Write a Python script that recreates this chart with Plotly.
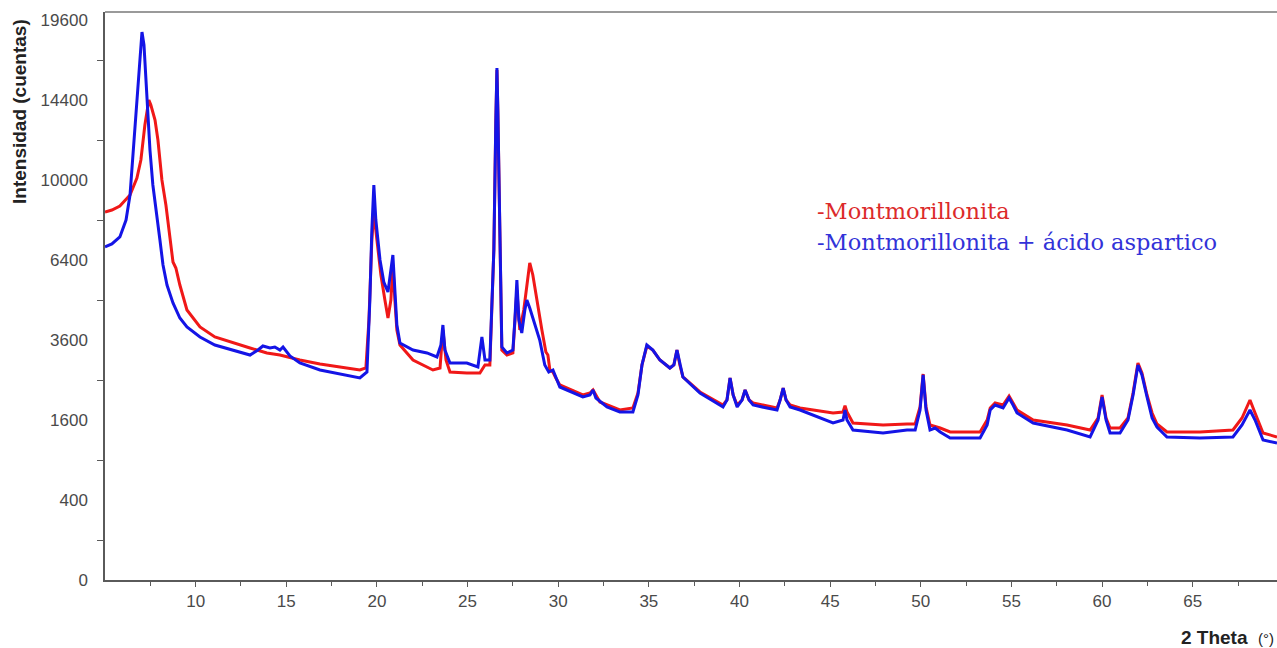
import numpy as np
import plotly.graph_objects as go

# ---- data (2 theta in degrees, intensity in counts) ----
red_2theta = [5.00, 5.38, 5.82, 6.38, 6.76, 6.98, 7.20, 7.37, 7.42, 7.53, 7.76, 7.92, 8.14, 8.36, 8.58, 8.75,
              8.91, 9.13, 9.52, 10.24, 11.06, 12.06, 13.00, 13.93, 14.65, 15.75, 16.86, 17.96, 19.06, 19.39,
              19.56, 19.72, 19.83, 20.00, 20.22, 20.44, 20.61, 20.77, 20.88, 20.99, 21.10, 21.27, 21.99, 23.09,
              23.48, 23.64, 23.81, 24.03, 24.96, 25.68, 25.96, 26.23, 26.45, 26.56, 26.62, 26.67, 26.78, 26.89,
              27.17, 27.50, 27.72, 27.88, 28.10, 28.27, 28.43, 28.60, 28.82, 29.10, 29.32, 29.43, 29.54, 29.71,
              29.87, 30.09, 31.36, 31.75, 31.92, 32.30, 33.40, 34.12, 34.40, 34.62, 34.89, 35.22, 35.61, 36.16,
              36.38, 36.55, 36.71, 36.88, 37.82, 39.09, 39.31, 39.48, 39.65, 39.87, 40.14, 40.31, 40.53, 40.75,
              42.07, 42.24, 42.41, 42.57, 42.79, 43.34, 45.16, 45.71, 45.82, 45.93, 46.26, 47.92, 49.24, 49.69,
              49.96, 50.13, 50.29, 50.51, 51.07, 51.62, 53.27, 53.66, 53.83, 54.10, 54.54, 54.87, 55.09, 55.31,
              56.20, 58.07, 59.34, 59.78, 60.00, 60.22, 60.44, 60.99, 61.43, 61.71, 61.98, 62.20, 62.48, 62.76,
              63.03, 63.58, 65.40, 67.22, 67.72, 68.16, 68.44, 68.88, 69.65]
red_counts = [8464, 8556, 8742, 9264, 10100, 11025, 12939, 14102, 14400, 14102, 13225, 12100, 10000, 8789, 7225, 6320,
              6084, 5439, 4556, 4001, 3691, 3511, 3364, 3221, 3164, 3025, 2916, 2836, 2756, 2809,
              4225, 7225, 8464, 7225, 5814, 4900, 4290, 4900, 6202, 4900, 3906, 3452, 3025, 2756,
              2809, 3906, 3025, 2704, 2678, 2678, 2889, 2889, 6806, 13225, 16256, 13806, 6806, 3306,
              3164, 3221, 5256, 3906, 4556, 5439, 6281, 5814, 4900, 3906, 3249, 3164, 2756, 2704,
              2550, 2377, 2139, 2186, 2256, 1980, 1806, 1849, 2186, 2889, 3422, 3306, 3025, 2809,
              2889, 3306, 2889, 2576, 2209, 1914, 2025, 2550, 2139, 1914, 2025, 2256, 2025, 1958,
              1849, 2025, 2304, 2025, 1914, 1849, 1743, 1764, 1900, 1764, 1541, 1502, 1521, 1521,
              1871, 2652, 1871, 1502, 1444, 1369, 1369, 1600, 1849, 1958, 1914, 2116, 1958, 1806,
              1600, 1502, 1406, 1640, 2139, 1640, 1444, 1444, 1640, 2186, 2943, 2678, 2139, 1743,
              1521, 1369, 1369, 1406, 1640, 2025, 1743, 1351, 1278]

blue_2theta = [5.00, 5.38, 5.82, 6.16, 6.38, 6.60, 6.82, 6.98, 7.04, 7.15, 7.31, 7.48, 7.64, 7.87, 8.03, 8.20,
               8.42, 8.75, 9.13, 9.52, 10.24, 11.06, 12.06, 13.00, 13.44, 13.71, 14.10, 14.37, 14.65, 14.82,
               15.20, 15.75, 16.86, 17.96, 19.06, 19.45, 19.61, 19.72, 19.83, 19.94, 20.17, 20.38, 20.61, 20.77,
               20.88, 20.99, 21.10, 21.27, 21.99, 22.76, 23.31, 23.53, 23.64, 23.75, 24.03, 24.96, 25.57, 25.79,
               25.96, 26.23, 26.45, 26.56, 26.62, 26.67, 26.78, 26.89, 27.17, 27.50, 27.61, 27.72, 27.83, 27.99,
               28.16, 28.27, 28.43, 28.71, 28.98, 29.26, 29.48, 29.71, 29.87, 30.09, 31.36, 31.75, 31.92, 32.08,
               32.69, 33.40, 34.12, 34.40, 34.62, 34.89, 35.22, 35.61, 36.16, 36.38, 36.55, 36.71, 36.88, 37.82,
               39.09, 39.31, 39.48, 39.65, 39.87, 40.14, 40.31, 40.53, 40.75, 41.52, 42.07, 42.24, 42.41, 42.57,
               42.79, 43.34, 45.16, 45.71, 45.82, 45.93, 46.26, 47.92, 49.24, 49.69, 49.96, 50.13, 50.29, 50.51,
               50.79, 51.07, 51.62, 53.27, 53.66, 53.83, 54.10, 54.54, 54.87, 55.09, 55.31, 56.20, 58.07, 59.34,
               59.78, 60.00, 60.22, 60.44, 60.99, 61.43, 61.71, 61.98, 62.20, 62.48, 62.76, 63.03, 63.58, 65.40,
               67.22, 67.72, 68.16, 68.44, 68.88, 69.65]
blue_counts = [6931, 7056, 7353, 8100, 9264, 12100, 15625, 18225, 18769, 17889, 14400, 11556, 9752, 8327, 7225, 6202,
               5439, 4796, 4290, 4001, 3691, 3452, 3306, 3164, 3306, 3422, 3364, 3393, 3306, 3393,
               3136, 2943, 2756, 2652, 2550, 2704, 4900, 7656, 9752, 8100, 6400, 5550, 5184, 6006,
               6602, 5256, 4064, 3511, 3306, 3221, 3108, 3452, 4064, 3306, 2943, 2943, 2836, 3691,
               3025, 3025, 6806, 13225, 16384, 13806, 6806, 3393, 3221, 3306, 4225, 5625, 4225, 3813,
               4556, 4900, 4624, 4064, 3600, 2889, 2704, 2756, 2550, 2328, 2093, 2139, 2256, 2070,
               1871, 1764, 1764, 2139, 2889, 3452, 3306, 3025, 2809, 2889, 3306, 2889, 2576, 2186,
               1871, 2025, 2550, 2139, 1871, 2025, 2256, 2025, 1914, 1849, 1806, 2025, 2304, 2025,
               1871, 1806, 1541, 1600, 1806, 1600, 1406, 1351, 1406, 1406, 1806, 2627, 1806, 1406,
               1444, 1369, 1260, 1260, 1502, 1806, 1914, 1849, 2070, 1914, 1743, 1541, 1406, 1278,
               1600, 2093, 1600, 1351, 1351, 1600, 2139, 2889, 2627, 2093, 1640, 1463, 1278, 1260,
               1278, 1502, 1806, 1600, 1225, 1173]

y_tick_values = [0, 400, 1600, 3600, 6400, 10000, 14400, 19600]
y_minor_values = [100, 900, 2500, 4900, 8100, 12100, 16900]
x_tick_values = [10, 15, 20, 25, 30, 35, 40, 45, 50, 55, 60, 65]
x_minor_values = [7.5, 12.5, 17.5, 22.5, 27.5, 32.5, 37.5, 42.5, 47.5, 52.5, 57.5, 62.5, 67.5]

series_names = ["-Montmorillonita", "-Montmorillonita + ácido aspartico"]

# square-root intensity scale (as in the diffractogram software)
sq = np.sqrt

fig = go.Figure()
fig.add_trace(go.Scatter(x=red_2theta, y=sq(red_counts), mode="lines", name=series_names[0],
                         line=dict(color="#f01818", width=3)))
fig.add_trace(go.Scatter(x=blue_2theta, y=sq(blue_counts), mode="lines", name=series_names[1],
                         line=dict(color="#1414e6", width=3)))

axis_col = "#5a5a5a"
fig.update_layout(
    width=1277, height=648,
    margin=dict(l=105, r=0, t=12, b=68),
    paper_bgcolor="white", plot_bgcolor="white",
    showlegend=False,
    font=dict(family="Liberation Sans, Arial, sans-serif", color="#4a4a4a"),
    xaxis=dict(range=[5, 69.65], tickmode="array", tickvals=x_tick_values,
               ticktext=[str(v) for v in x_tick_values],
               showgrid=False, zeroline=False, showline=True, linecolor=axis_col, linewidth=1.5,
               ticks="outside", ticklen=5, tickcolor=axis_col, tickwidth=1,
               tickfont=dict(size=17, color="#4a4a4a"),
               minor=dict(tickmode="array", tickvals=x_minor_values, ticks="outside",
                          ticklen=4, tickcolor=axis_col)),
    yaxis=dict(range=[0, 142], tickmode="array", tickvals=list(sq(y_tick_values)),
               ticktext=[str(v) for v in y_tick_values],
               showgrid=False, zeroline=False, showline=True, linecolor=axis_col, linewidth=1.5,
               ticks="outside", ticklen=12, tickcolor="rgba(0,0,0,0)",
               tickfont=dict(size=17, color="#4a4a4a"),
               minor=dict(tickmode="array", tickvals=list(sq(y_minor_values)), ticks="outside",
                          ticklen=6, tickcolor=axis_col)),
)

# top frame line
fig.add_shape(type="line", xref="paper", yref="paper", x0=0, x1=1, y0=1, y1=1,
              line=dict(color="#9a9a9a", width=2))

# axis titles
fig.add_annotation(text="<b>Intensidad (cuentas)</b>", xref="paper", yref="paper",
                   x=-86 / 1172, y=(580 - 112) / 568, textangle=-90, showarrow=False,
                   font=dict(size=19, color="#222222", family="Liberation Sans, Arial, sans-serif"),
                   xanchor="center", yanchor="middle")
fig.add_annotation(text="<b>2 Theta</b>  <span style='font-size:15px'>(°)</span>", xref="paper", yref="paper",
                   x=0.999, y=-57 / 568, showarrow=False, xanchor="right", yanchor="middle",
                   font=dict(size=19, color="#222222", family="Liberation Sans, Arial, sans-serif"))

# in-plot legend text
fig.add_annotation(text=series_names[0], xref="paper", yref="paper",
                   x=(815 - 105) / 1172, y=(580 - 211) / 568, showarrow=False,
                   xanchor="left", yanchor="middle",
                   font=dict(size=22.5, color="#dc2a2a", family="DejaVu Serif, serif"))
fig.add_annotation(text=series_names[1], xref="paper", yref="paper",
                   x=(815 - 105) / 1172, y=(580 - 242) / 568, showarrow=False,
                   xanchor="left", yanchor="middle",
                   font=dict(size=22.5, color="#3232d8", family="DejaVu Serif, serif"))

fig.write_html("out.html")
